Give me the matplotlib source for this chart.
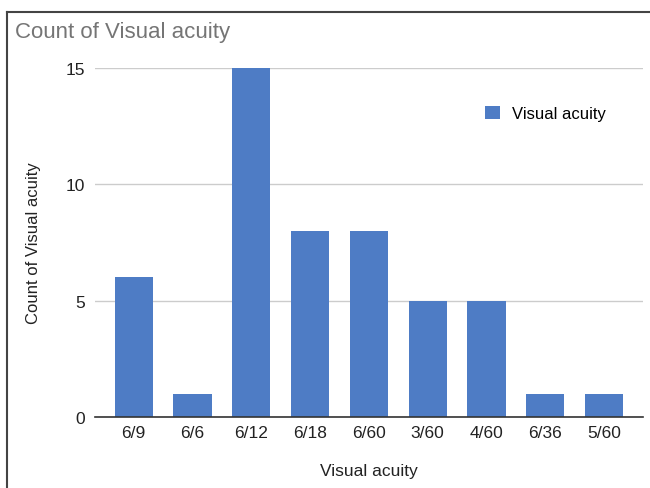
import matplotlib.pyplot as plt
from matplotlib.lines import Line2D

plt.rcParams['font.family'] = ['Liberation Sans', 'DejaVu Sans']

# Data
categories = ['6/9', '6/6', '6/12', '6/18', '6/60', '3/60', '4/60', '6/36', '5/60']
counts = [6, 1, 15, 8, 8, 5, 5, 1, 1]
yticks = [0, 5, 10, 15]

fig = plt.figure(figsize=(6.5, 4.89), dpi=100)
ax = fig.add_axes([0.146, 0.145, 0.843, 0.714])

x = range(len(categories))
ax.bar(x, counts, width=0.65, color='#4e7cc5', label='Visual acuity', zorder=3)

ax.set_xlim(-0.66, 8.66)
ax.set_ylim(0, 15)
ax.set_yticks(yticks)
ax.set_xticks(list(x))
ax.set_xticklabels(categories)
ax.tick_params(axis='both', length=0, labelsize=12.5, colors='#222222')
ax.tick_params(axis='x', pad=6)
ax.tick_params(axis='y', pad=7)
ax.grid(axis='y', color='#cccccc', linewidth=1, zorder=0)
for s in ['top', 'right', 'left']:
    ax.spines[s].set_visible(False)
ax.spines['bottom'].set_color('#333333')
ax.spines['bottom'].set_linewidth(1.2)
ax.spines['bottom'].set_zorder(4)

ax.set_xlabel('Visual acuity', fontsize=12.5, labelpad=16, color='#222222')
ax.set_ylabel('Count of Visual acuity', fontsize=12, labelpad=18, color='#222222')

ax.legend(loc='upper right', bbox_to_anchor=(0.96, 0.935), frameon=False,
          fontsize=12, handlelength=0.85, handleheight=0.85, handletextpad=0.75)

fig.text(0.023, 0.933, 'Count of Visual acuity', fontsize=16, color='#757575', va='center')

# outer frame (top and left edges)
fig.add_artist(Line2D([0.011, 1.0], [0.974, 0.974], color='#444444', linewidth=1.5))
fig.add_artist(Line2D([0.011, 0.011], [0.0, 0.974], color='#444444', linewidth=1.5))

fig.savefig('out.png', dpi=100)
